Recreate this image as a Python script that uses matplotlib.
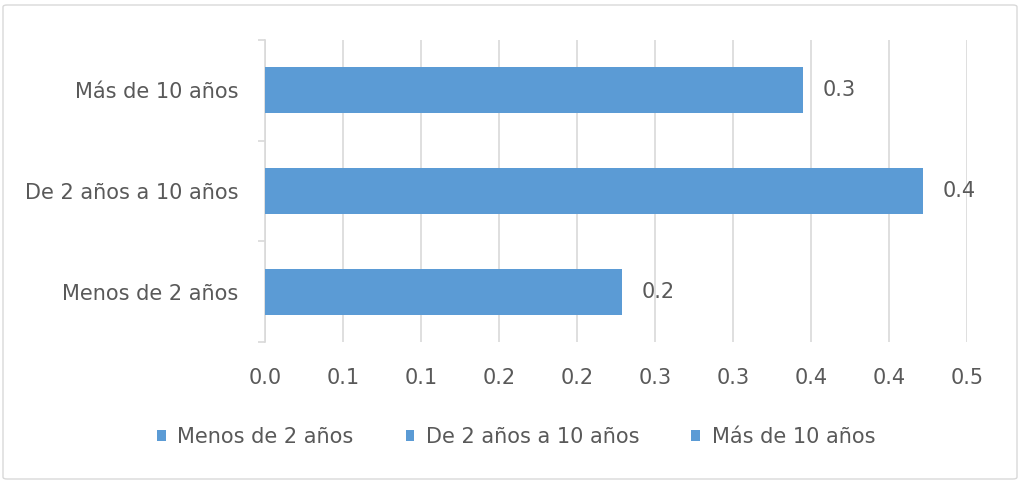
import matplotlib
matplotlib.use("Agg")
import matplotlib.pyplot as plt
from matplotlib.patches import Patch, FancyBboxPatch
import numpy as np

categories = ["Menos de 2 años", "De 2 años a 10 años", "Más de 10 años"]
values = [0.229, 0.422, 0.345]
value_labels = ["0.2", "0.4", "0.3"]
x_ticks = [0.0, 0.05, 0.10, 0.15, 0.20, 0.25, 0.30, 0.35, 0.40, 0.45]
x_tick_labels = ["0.0", "0.1", "0.1", "0.2", "0.2", "0.3", "0.3", "0.4", "0.4", "0.5"]

BLUE = "#5B9BD5"
GRID = "#D9D9D9"
TXT = "#595959"
FONT = "DejaVu Sans"
FS = 15

plt.rcParams["font.family"] = [FONT, "DejaVu Sans"]

W, H = 1030, 483
fig = plt.figure(figsize=(W / 100, H / 100), dpi=100)

# outer chart border
border = FancyBboxPatch((3 / W, 4 / H), 1014 / W, 474 / H,
                        boxstyle="round,pad=0,rounding_size=0.004",
                        transform=fig.transFigure, facecolor="none",
                        edgecolor=GRID, linewidth=1.0, zorder=-1)
fig.patches.append(border)

left, right, top, bottom = 265, 967, 40, 342
ax = fig.add_axes([left / W, 1 - bottom / H, (right - left) / W, (bottom - top) / H])
ax.set_facecolor("none")

y = np.arange(len(categories))
bars = ax.barh(y, values, height=0.455, color=BLUE, zorder=3)

ax.set_xlim(0, 0.45)
ax.set_ylim(-0.5, len(categories) - 0.5)

ax.set_xticks(x_ticks)
ax.set_xticklabels(x_tick_labels)
ax.xaxis.grid(True, color=GRID, linewidth=1.2, zorder=0)
ax.tick_params(axis="x", length=0, pad=19, labelsize=FS, labelcolor=TXT)

ax.set_yticks(y)
ax.set_yticklabels(categories)
ax.set_yticks(np.arange(-0.5, len(categories), 1.0), minor=True)
ax.tick_params(axis="y", which="major", length=0, pad=19, labelsize=FS, labelcolor=TXT)
ax.tick_params(axis="y", which="minor", length=5, width=1.2, color=GRID)

for s in ["top", "right", "bottom"]:
    ax.spines[s].set_visible(False)
ax.spines["left"].set_color(GRID)
ax.spines["left"].set_linewidth(1.2)

for rect, lab in zip(bars, value_labels):
    ax.annotate(lab, (rect.get_width(), rect.get_y() + rect.get_height() / 2),
                xytext=(14, 0), textcoords="offset points",
                va="center", ha="left", fontsize=FS, color=TXT)

handles = [Patch(facecolor=BLUE, edgecolor="none", label=c) for c in categories]
fig.legend(handles=handles, loc="center", bbox_to_anchor=(516 / W, 1 - 437 / H),
           ncol=3, frameon=False, fontsize=FS, labelcolor=TXT,
           handlelength=0.42, handleheight=0.42, handletextpad=0.55,
           columnspacing=2.5)

fig.savefig("out.png", dpi=100)
